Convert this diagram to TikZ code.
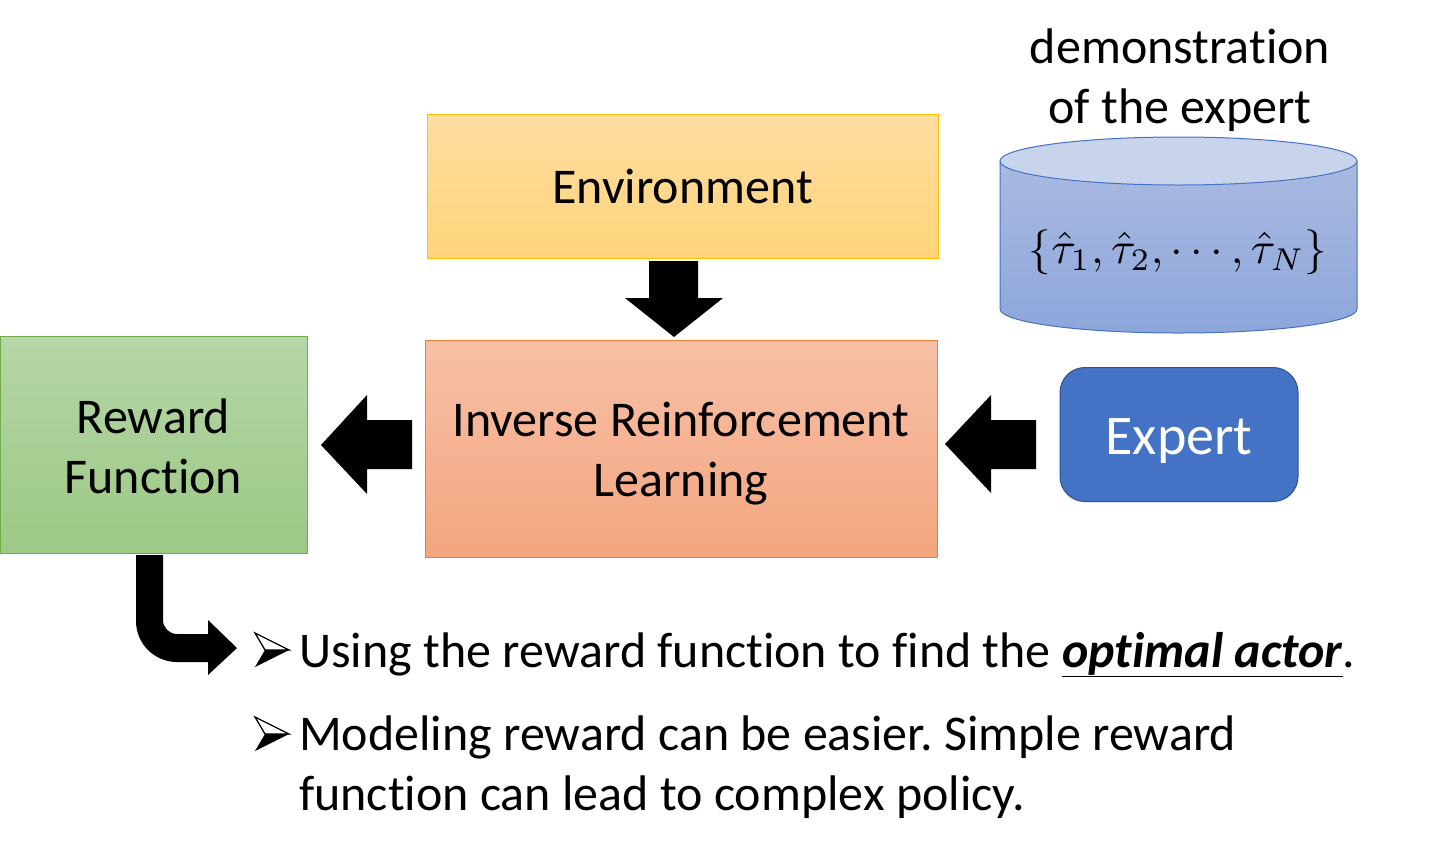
\documentclass[tikz,border=0pt]{standalone}
\usepackage{fontspec}
\setmainfont{Carlito}[Ligatures=NoCommon]
\usetikzlibrary{shapes.geometric}
\definecolor{envT}{HTML}{FFDDA0}
\definecolor{envBt}{HTML}{FFD47C}
\definecolor{envB}{HTML}{FFC000}
\definecolor{irlT}{HTML}{F7C0A7}
\definecolor{irlBt}{HTML}{F4A57F}
\definecolor{irlB}{HTML}{ED7D31}
\definecolor{rewT}{HTML}{B5D6A7}
\definecolor{rewBt}{HTML}{9CC985}
\definecolor{rewB}{HTML}{70AD47}
\definecolor{expF}{HTML}{4472C4}
\definecolor{expB}{HTML}{2F528F}
\definecolor{cylTop}{HTML}{C8D3EC}
\definecolor{cylT}{HTML}{A9BAE1}
\definecolor{cylBt}{HTML}{8DA6DA}
\definecolor{cylB}{HTML}{4472C4}
\frenchspacing
\begin{document}
\begin{tikzpicture}[x=1pt,y=-1pt,
  txt/.style={font=\fontsize{50}{60}\selectfont, align=center, inner sep=0pt},
  box/.style={draw, line width=1pt, inner sep=0pt, txt},
  barrow/.pic={
    \draw[line width=1.3pt, fill=white, line join=miter] (0,-17)--(34,0)--(10,0)--cycle;
    \fill (10,0)--(34,0)--(0,17)--cycle;
  }]
\useasboundingbox (0,0) rectangle (1431,855);
\fill[white] (0,0) rectangle (1431,855);

% boxes
\node[box, draw=envB, top color=envT, bottom color=envBt,
      minimum width=511pt, minimum height=144pt] (env) at (682.5,186) {Environment};
\node[box, draw=irlB, top color=irlT, bottom color=irlBt,
      minimum width=512pt, minimum height=217pt] (irl) at (681,448.5) {};
\node[txt] (irltxt) at (681,453.5) {Inverse Reinforcement\\Learning};
\node[box, draw=rewB, top color=rewT, bottom color=rewBt,
      minimum width=307pt, minimum height=217pt] (rew) at (153.5,444.5) {};
\node[txt] (rewtxt) at (153.5,446.5) {Reward\\Function};
\node[box, draw=expB, fill=expF, rounded corners=25pt,
      minimum width=238pt, minimum height=134pt] (exp) at (1179,434.5) {};
\node[txt, text=white, font=\fontsize{56}{60}\selectfont] (exptxt) at (1179,441) {Expert};

% cylinder
\shade[top color=cylT, bottom color=cylBt]
  (1000,161) -- (1000,309) arc[start angle=180, end angle=0, x radius=178.5, y radius=24] -- (1357,161) -- cycle;
\draw[cylB, line width=1pt]
  (1000,161) -- (1000,309) arc[start angle=180, end angle=0, x radius=178.5, y radius=24] -- (1357,161);
\draw[cylB, line width=1pt, fill=cylTop] (1178.5,161) ellipse[x radius=178.5, y radius=24];
\node[inner sep=0pt, font=\normalsize, scale=4.5] (dbtxt) at (1178,252)
  {$\{\hat{\tau}_1,\hat{\tau}_2,\cdots,\hat{\tau}_N\}$};
\node[txt] (dbtitle) at (1180,80) {demonstration\\of the expert};

% block arrows
\fill (649,261)--(698,261)--(698,298)--(723,298)--(674,337)--(625,298)--(649,298)--cycle;
\fill (412,420)--(367,420)--(367,395)--(321,445)--(367,494)--(367,469)--(412,469)--cycle;
\fill (1036,420)--(991,420)--(991,395)--(945,444)--(991,493)--(991,469)--(1036,469)--cycle;

% bent arrow
\fill (136,555) -- (136,621) arc[start angle=180, end angle=90, radius=41]
  -- (208,662) -- (208,675) -- (237,648) -- (208,620) -- (208,634) -- (177,634)
  arc[start angle=90, end angle=180, radius=14] -- (163,555) -- cycle;

% bullets
\pic at (255,650) {barrow};
\pic at (255,734) {barrow};
\node[txt, anchor=base west] (b1) at (299,667)
  {Using the reward function to find the \underline{\textbf{\textit{optimal actor}}}.};
\node[txt, anchor=base west] (b2a) at (299,750) {Modeling reward can be easier. Simple reward};
\node[txt, anchor=base west] (b2b) at (299,810) {function can lead to complex policy.};
\end{tikzpicture}
\end{document}
